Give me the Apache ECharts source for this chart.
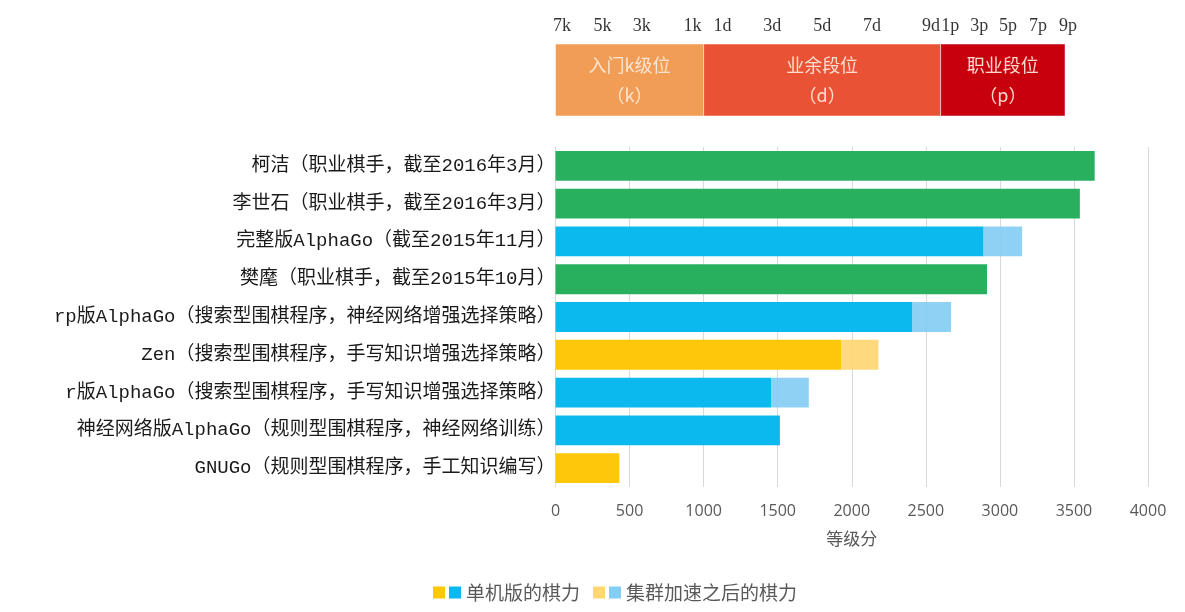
<!DOCTYPE html>
<html><head><meta charset="utf-8">
<script src="https://cdn.jsdelivr.net/npm/echarts@6/dist/echarts.min.js"></script>
<style>html,body{margin:0;padding:0;background:#fff}#c{width:1185px;height:612px}</style>
</head><body><div id="c"></div>
<script>
// ---- data ----
var categories = [
  "柯洁（职业棋手，截至2016年3月）",
  "李世石（职业棋手，截至2016年3月）",
  "完整版AlphaGo（截至2015年11月）",
  "樊麾（职业棋手，截至2015年10月）",
  "rp版AlphaGo（搜索型围棋程序，神经网络增强选择策略）",
  "Zen（搜索型围棋程序，手写知识增强选择策略）",
  "r版AlphaGo（搜索型围棋程序，手写知识增强选择策略）",
  "神经网络版AlphaGo（规则型围棋程序，神经网络训练）",
  "GNUGo（规则型围棋程序，手工知识编写）"
];
var kinds = ["human","human","alphago","human","alphago","program","alphago","alphago","program"];
var singleElo  = [3640, 3540, 2890, 2913, 2410, 1930, 1455, 1515, 431];
var clusterElo = [null, null, 3150, null, 2670, 2180, 1710, null, null];

var bandNames  = ["入门k级位\n（k）", "业余段位\n（d）", "职业段位\n（p）"];
var bandStarts = [0, 1000, 2600];
var bandEnds   = [1000, 2600, 3440];

var rankLabels = ["7k","5k","3k","1k","1d","3d","5d","7d","9d","1p","3p","5p","7p","9p"];
var rankElo    = [44, 318, 583, 925, 1127, 1463, 1800, 2136, 2535, 2665, 2860, 3055, 3258, 3460];

var legendNames = ["单机版的棋力", "集群加速之后的棋力"];

// ---- styles ----
var solid = {human: "#28B05F", alphago: "#0CB9EE", program: "#FEC70A"};
var light = {alphago: "rgba(132,205,243,0.92)", program: "rgba(254,214,115,0.92)"};
var bandColors = ["#F29D55", "#E95234", "#C8000E"];
var cjk = "'Noto Sans CJK SC', sans-serif";
var mixed = "'Liberation Mono', 'Noto Sans CJK SC', monospace";

var rev = function(a){ return a.slice().reverse(); };
var cats = rev(categories);
var kindsR = rev(kinds);
var singleR = rev(singleElo);
var clusterR = rev(clusterElo);

var singleData = singleR.map(function(v, i){
  return {value: v, itemStyle: {color: solid[kindsR[i]]}};
});
var extraData = clusterR.map(function(v, i){
  if (v == null) return {value: 0};
  return {value: v - singleR[i], itemStyle: {color: light[kindsR[i]]}};
});

function split(c1, c2){
  return {type:'linear', x:0, y:0, x2:1, y2:0, colorStops:[
    {offset:0, color:c1},{offset:0.4286, color:c1},{offset:0.4286, color:'#fff'},
    {offset:0.5714, color:'#fff'},{offset:0.5714, color:c2},{offset:1, color:c2}]};
}

var chart = echarts.init(document.getElementById('c'), null, {renderer:'canvas'});
chart.setOption({
  animation: false,
  backgroundColor: '#fff',
  legend: {
    bottom: 5, left: 428,
    itemWidth: 28, itemHeight: 12, itemGap: 13,
    icon: 'rect',
    textStyle: {fontFamily: cjk, fontSize: 19, color: '#595959', padding: [0, 0, 0, 0]},
    data: [
      {name: legendNames[0], itemStyle: {color: split('#FEC70A', '#0CB9EE')}},
      {name: legendNames[1], itemStyle: {color: split('#FED673', '#84CDF3')}}
    ]
  },
  grid: [
    {left: 555.5, right: 37, top: 147, height: 340},
    {left: 555.5, right: 37, top: 44, height: 72},
    {left: 555.5, right: 37, top: 10, height: 30}
  ],
  xAxis: [
    {gridIndex: 0, type: 'value', min: 0, max: 4000, interval: 500,
     name: '等级分', nameLocation: 'middle', nameGap: 43,
     nameTextStyle: {fontFamily: cjk, fontSize: 17, color: '#595959'},
     axisLine: {show: false}, axisTick: {show: false},
     axisLabel: {fontFamily: "'Open Sans', sans-serif", fontSize: 16, color: '#595959', margin: 16,
                 formatter: function(v){ return String(v); }},
     splitLine: {show: true, lineStyle: {color: '#D9D9D9', width: 1}}},
    {gridIndex: 1, type: 'value', min: 0, max: 4000, show: false},
    {gridIndex: 2, type: 'value', min: 0, max: 4000, show: false}
  ],
  yAxis: [
    {gridIndex: 0, type: 'category', data: cats,
     axisLine: {show: true, lineStyle: {color: '#D9D9D9'}}, axisTick: {show: false},
     axisLabel: {fontFamily: mixed, fontSize: 19, color: '#1a1a1a', margin: 0}},
    {gridIndex: 1, type: 'category', data: ['band'], show: false},
    {gridIndex: 2, type: 'category', data: ['rank'], show: false}
  ],
  series: [
    {type: 'bar', name: legendNames[0], xAxisIndex: 0, yAxisIndex: 0, stack: 's',
     barCategoryGap: '21%', data: singleData, itemStyle: {color: '#0CB9EE'}},
    {type: 'bar', name: legendNames[1], xAxisIndex: 0, yAxisIndex: 0, stack: 's',
     data: extraData, itemStyle: {color: '#84CDF3'}},
    {type: 'custom', xAxisIndex: 1, yAxisIndex: 1, silent: true,
     data: bandStarts.map(function(s, i){ return [s, bandEnds[i], 0, i]; }),
     encode: {x: [0, 1], y: 2},
     renderItem: function(params, api){
       var a = api.coord([api.value(0), 0]);
       var b = api.coord([api.value(1), 0]);
       var h = api.size([0, 1])[1];
       var i = api.value(3);
       return {type: 'group', children: [
         {type: 'rect', shape: {x: a[0], y: a[1] - h/2, width: b[0] - a[0], height: h},
          style: {fill: bandColors[i], stroke: '#ffffff', lineWidth: 0.5}},
         {type: 'text', x: (a[0] + b[0]) / 2, y: a[1],
          style: {text: bandNames[i], fill: 'rgba(255,235,220,0.92)', fontFamily: cjk, fontSize: 18,
                  align: 'center', verticalAlign: 'middle', lineHeight: 30}}
       ]};
     }},
    {type: 'scatter', xAxisIndex: 2, yAxisIndex: 2, silent: true, symbolSize: 0,
     data: rankElo.map(function(v, i){ return {value: [v, 'rank'], name: rankLabels[i]}; }),
     label: {show: true, position: 'inside', formatter: '{b}', offset: [0, 1],
             fontFamily: "'Liberation Serif', serif", fontSize: 18, color: '#000'}}
  ]
});
</script></body></html>
